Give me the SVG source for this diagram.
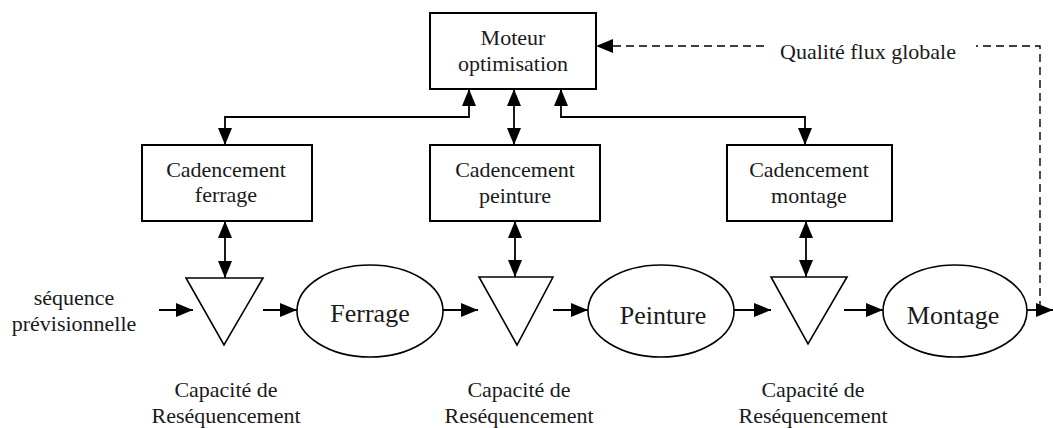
<svg xmlns="http://www.w3.org/2000/svg" width="1053" height="428" viewBox="0 0 1053 428">
<style>
  .box{fill:#fff;stroke:#000;stroke-width:2}
  .ell{fill:#fff;stroke:#000;stroke-width:1.6}
  .tri{fill:#fff;stroke:#000;stroke-width:1.6;stroke-linejoin:miter}
  text{font-family:'Liberation Serif','DejaVu Serif','Times New Roman',serif;font-size:22px;fill:#1a1a1a;text-anchor:middle}
  .big{font-size:26px}
  .ln{fill:none;stroke:#000;stroke-width:1.8}
  .dash{fill:none;stroke:#000;stroke-width:1.4;stroke-dasharray:8 5}
</style>
<defs>
  <marker id="ah" viewBox="0 0 17 14" refX="17" refY="7" markerWidth="17" markerHeight="14" markerUnits="userSpaceOnUse" orient="auto-start-reverse">
    <path d="M0,0 L17,7 L0,14 z" fill="#000"/>
  </marker>
</defs>
<rect width="1053" height="428" fill="#fff"/>

<g id="connectors">
  <polyline class="ln" points="225,145 225,117 469,117 469,89" marker-start="url(#ah)" marker-end="url(#ah)"/>
  <polyline class="ln" points="805,145 805,117 561,117 561,89" marker-start="url(#ah)" marker-end="url(#ah)"/>
  <line class="ln" x1="514" y1="89" x2="514" y2="145" marker-start="url(#ah)" marker-end="url(#ah)"/>
  <line class="ln" x1="225" y1="221" x2="225" y2="278" marker-start="url(#ah)" marker-end="url(#ah)"/>
  <line class="ln" x1="515" y1="221" x2="515" y2="277" marker-start="url(#ah)" marker-end="url(#ah)"/>
  <line class="ln" x1="806" y1="221" x2="806" y2="277" marker-start="url(#ah)" marker-end="url(#ah)"/>
  <line class="ln" x1="159" y1="310" x2="193" y2="310" marker-end="url(#ah)"/>
  <line class="ln" x1="263" y1="310" x2="297" y2="310" marker-end="url(#ah)"/>
  <line class="ln" x1="443" y1="310" x2="478" y2="310" marker-end="url(#ah)"/>
  <line class="ln" x1="553" y1="310" x2="588" y2="310" marker-end="url(#ah)"/>
  <line class="ln" x1="734" y1="310" x2="771" y2="310" marker-end="url(#ah)"/>
  <line class="ln" x1="844" y1="310" x2="883" y2="310" marker-end="url(#ah)"/>
  <line class="ln" x1="1027" y1="310" x2="1053" y2="310" marker-end="url(#ah)"/>
  <polyline class="dash" points="1040,309 1040,46 976,46"/>
  <line class="dash" x1="764" y1="46" x2="596" y2="46" marker-end="url(#ah)"/>
  <text x="868" y="59">Qualité flux globale</text>
</g>

<g id="moteur">
  <rect class="box" x="430" y="13" width="166" height="76"/>
  <text x="513" y="45">Moteur</text>
  <text x="513" y="71">optimisation</text>
</g>

<g id="cad-ferrage">
  <rect class="box" x="142" y="145" width="170" height="76"/>
  <text x="226" y="177">Cadencement</text>
  <text x="226" y="202">ferrage</text>
</g>
<g id="cad-peinture">
  <rect class="box" x="430" y="145" width="170" height="76"/>
  <text x="515" y="177">Cadencement</text>
  <text x="515" y="203">peinture</text>
</g>
<g id="cad-montage">
  <rect class="box" x="727" y="145" width="165" height="76"/>
  <text x="809" y="177">Cadencement</text>
  <text x="809" y="203">montage</text>
</g>

<g id="seq">
  <text x="74" y="305">séquence</text>
  <text x="74" y="331">prévisionnelle</text>
</g>

<g id="tri1">
  <polygon class="tri" points="186,278 263,278 224,345"/>
  <text x="226" y="397">Capacité de</text>
  <text x="226" y="423">Reséquencement</text>
</g>
<g id="tri2">
  <polygon class="tri" points="479,277 553,277 517,345"/>
  <text x="519" y="397">Capacité de</text>
  <text x="519" y="423">Reséquencement</text>
</g>
<g id="tri3">
  <polygon class="tri" points="771,277 847,277 808,344"/>
  <text x="813" y="397">Capacité de</text>
  <text x="813" y="423">Reséquencement</text>
</g>

<g id="ferrage">
  <ellipse class="ell" cx="370" cy="311" rx="73" ry="46"/>
  <text class="big" x="370" y="322">Ferrage</text>
</g>
<g id="peinture">
  <ellipse class="ell" cx="661" cy="311" rx="73" ry="46"/>
  <text class="big" x="663" y="324">Peinture</text>
</g>
<g id="montage">
  <ellipse class="ell" cx="955" cy="311" rx="72" ry="46"/>
  <text class="big" x="953" y="324">Montage</text>
</g>
</svg>
